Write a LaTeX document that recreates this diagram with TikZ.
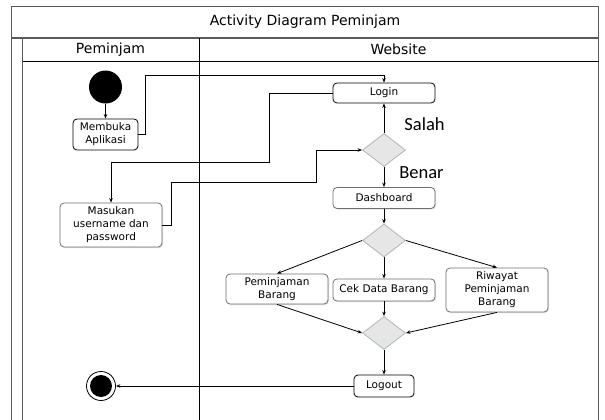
\documentclass[tikz,border=0pt]{standalone}
\usepackage{fontspec}
\setmainfont{DejaVu Sans}
\newfontfamily\calibri{Carlito}
\usepackage{xcolor}
\usepackage{tikz}
\usetikzlibrary{arrows.meta,positioning,shapes.geometric,shadows}

\definecolor{framegray}{HTML}{5A5A5A}
\definecolor{boxgray}{HTML}{6E6E6E}
\definecolor{dfill}{HTML}{E6E6E6}
\definecolor{dborder}{HTML}{A9B9B1}

\begin{document}
\begin{tikzpicture}[x=1pt, y=-1pt, >={Stealth[length=4.5pt,width=3.5pt]},
  box/.style={rounded corners=4pt, fill=white, align=center, inner sep=1pt,
    line width=0.8pt, font=\fontsize{10.5}{13}\selectfont},
  act/.style={box, draw=black},
  actg/.style={box, draw=boxgray,
    drop shadow={shadow xshift=1pt, shadow yshift=-1pt, opacity=0.25}},
  decide/.style={diamond, draw=dborder, fill=dfill, line width=0.8pt,
    inner sep=0pt, minimum width=43pt, minimum height=33pt},
  flow/.style={->, line width=0.8pt},
  lbl/.style={font=\calibri\fontsize{18.5}{20}\selectfont},
  head/.style={font=\fontsize{14}{16}\selectfont}]
  \useasboundingbox (0,0) rectangle (605,420);

  % swimlane frame
  \draw[framegray, line width=1.3pt] (11.5,420) |- (598.5,6.5) -- (598.5,420);
  \draw[framegray, line width=1.3pt] (11.5,38) -- (598.5,38);
  \draw[framegray, line width=1.3pt] (22.5,38) -- (22.5,420);
  \draw[line width=0.8pt] (22.5,61) -- (598.5,61);
  \draw[line width=0.8pt] (199,38) -- (199,420);
  \node[head] (judul) at (305,22) {Activity Diagram Peminjam};
  \node[head] (lane1) at (110.5,49.5) {Peminjam};
  \node[head] (lane2) at (398.5,49.5) {Website};

  % peminjam
  \node[circle, fill=black, minimum size=33pt, inner sep=0pt] (mulai) at (105.5,87) {};
  \node[act, minimum width=65pt, minimum height=31pt] (membuka) at (105.5,134.5) {Membuka\\Aplikasi};
  \node[actg, minimum width=102pt, minimum height=44pt] (masukan) at (111,225) {Masukan\\username dan\\password};
  \node[circle, draw=black, line width=0.8pt, fill=white, minimum size=29pt, inner sep=0pt] (selesai) at (101,386) {};
  \fill (selesai.center) circle (11);

  % website
  \node[act, minimum width=102pt, minimum height=20pt] (login) at (384,93) {Login};
  \node[decide] (cek) at (384,150) {};
  \node[actg, minimum width=102pt, minimum height=21pt] (dashboard) at (384,198) {Dashboard};
  \node[decide] (pilih) at (384,240.5) {};
  \node[actg, minimum width=102pt, minimum height=30pt] (pinjam) at (277,289) {Peminjaman\\Barang};
  \node[actg, minimum width=102pt, minimum height=22pt] (cekdata) at (384,290) {Cek Data Barang};
  \node[actg, minimum width=102pt, minimum height=44pt] (riwayat) at (497,290) {Riwayat\\Peminjaman\\Barang};
  \node[decide] (gabung) at (384,333) {};
  \node[act, minimum width=60pt, minimum height=22pt] (logout) at (384,386) {Logout};

  \coordinate (k1) at (145,75);
  \coordinate (k2) at (269,162);
  \coordinate (k3) at (171,182);
  \coordinate (k4) at (316,150);

  \draw[flow] (mulai) -- (membuka);
  \draw[flow] (membuka.east) -| (k1) -| (login.north);
  \draw[flow] (login.west) -| (k2) -| (masukan.north);
  \draw[flow] (masukan.east) -| (k3) -| (k4) -- (cek.west);
  \draw[flow] (cek.north) -- (login.south);
  \draw[flow] (cek.south) -- (dashboard.north);
  \node[lbl] (salah) at (424.5,124) {Salah};
  \node[lbl] (benar) at (421.5,173) {Benar};
  \draw[flow] (dashboard.south) -- (pilih.north);
  \draw[flow] (pilih.west) -- (pinjam.north);
  \draw[flow] (pilih.south) -- (cekdata.north);
  \draw[flow] (pilih.east) -- (riwayat.north);
  \draw[flow] (pinjam.south) -- (gabung.west);
  \draw[flow] (cekdata.south) -- (gabung.north);
  \draw[flow] (riwayat.south) -- (gabung.east);
  \draw[flow] (gabung.south) -- (logout.north);
  \draw[flow] (logout.west) -- (selesai.east);
\end{tikzpicture}
\end{document}
